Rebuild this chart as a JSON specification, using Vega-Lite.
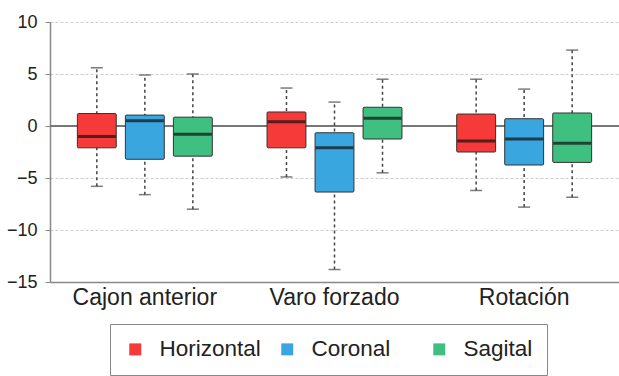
{
  "$schema": "https://vega.github.io/schema/vega-lite/v6.json",
  "width": 569,
  "height": 260,
  "padding": {"left": 6, "top": 13, "right": 0, "bottom": 0},
  "background": "white",
  "config": {
    "font": "Liberation Sans",
    "view": {"stroke": null}
  },
  "data": {
    "values": [
      {"group": "Cajon anterior", "series": "Horizontal", "lo": -5.8, "q1": -2.1, "med": -1.0, "q3": 1.2, "hi": 5.6},
      {"group": "Cajon anterior", "series": "Coronal", "lo": -6.6, "q1": -3.2, "med": 0.5, "q3": 1.05, "hi": 4.9},
      {"group": "Cajon anterior", "series": "Sagital", "lo": -8.0, "q1": -2.9, "med": -0.8, "q3": 0.85, "hi": 5.0},
      {"group": "Varo forzado", "series": "Horizontal", "lo": -4.9, "q1": -2.1, "med": 0.4, "q3": 1.35, "hi": 3.65},
      {"group": "Varo forzado", "series": "Coronal", "lo": -13.8, "q1": -6.35, "med": -2.1, "q3": -0.65, "hi": 2.3},
      {"group": "Varo forzado", "series": "Sagital", "lo": -4.5, "q1": -1.25, "med": 0.75, "q3": 1.8, "hi": 4.5},
      {"group": "Rotación", "series": "Horizontal", "lo": -6.2, "q1": -2.5, "med": -1.45, "q3": 1.15, "hi": 4.5},
      {"group": "Rotación", "series": "Coronal", "lo": -7.8, "q1": -3.75, "med": -1.25, "q3": 0.7, "hi": 3.55},
      {"group": "Rotación", "series": "Sagital", "lo": -6.85, "q1": -3.5, "med": -1.65, "q3": 1.25, "hi": 7.3}
    ]
  },
  "encoding": {
    "x": {
      "field": "group", "type": "nominal",
      "sort": ["Cajon anterior", "Varo forzado", "Rotación"],
      "scale": {"paddingInner": 0, "paddingOuter": 0},
      "axis": {"title": null, "labelAngle": 0, "labelFontSize": 23, "labelColor": "#222", "ticks": false, "labelPadding": 4, "domainColor": "#888", "domainWidth": 1.5}
    },
    "xOffset": {
      "field": "series", "type": "nominal",
      "sort": ["Horizontal", "Coronal", "Sagital"],
      "scale": {"paddingInner": 0.19, "paddingOuter": 0.57}
    }
  },
  "layer": [
    {
      "mark": {"type": "rule", "color": "#777", "strokeWidth": 1.5},
      "encoding": {
        "x": null, "xOffset": null,
        "y": {"datum": 0, "type": "quantitative", "scale": {"domain": [-15, 10], "nice": false, "zero": false},
          "axis": {"title": null, "values": [-15, -10, -5, 0, 5, 10], "labelFontSize": 18, "labelColor": "#222", "grid": true, "gridColor": "#cccccc", "gridDash": [3, 2], "gridWidth": 1, "domainColor": "#888", "domainWidth": 1.5, "tickColor": "#888", "tickSize": 5, "labelPadding": 8}}
      }
    },
    {
      "mark": {"type": "rule", "color": "#444", "strokeWidth": 1.5, "strokeDash": [3, 3]},
      "encoding": {
        "y": {"field": "lo", "type": "quantitative"},
        "y2": {"field": "hi"}
      }
    },
    {
      "mark": {"type": "bar", "stroke": "#333", "strokeWidth": 1, "cornerRadius": 1},
      "encoding": {
        "y": {"field": "q1", "type": "quantitative"},
        "y2": {"field": "q3"},
        "color": {
          "field": "series", "type": "nominal",
          "sort": ["Horizontal", "Coronal", "Sagital"],
          "scale": {"domain": ["Horizontal", "Coronal", "Sagital"], "range": ["#f63a3a", "#3aa6e0", "#40c080"]},
          "legend": {"title": null, "orient": "none", "legendX": 60, "legendY": 302, "direction": "horizontal", "columns": 3, "gridAlign": "all", "columnPadding": 15, "symbolType": "square", "symbolSize": 144, "symbolStrokeWidth": 0, "labelFontSize": 22.5, "labelColor": "#222", "labelOffset": 13, "padding": 14, "strokeColor": "#888", "fillColor": "white"}
        }
      }
    },
    {
      "mark": {"type": "tick", "color": "#111", "thickness": 3, "size": 38},
      "encoding": {"y": {"field": "med", "type": "quantitative"}}
    },
    {
      "mark": {"type": "tick", "color": "#444", "thickness": 1.5, "size": 12},
      "encoding": {"y": {"field": "hi", "type": "quantitative"}}
    },
    {
      "mark": {"type": "tick", "color": "#444", "thickness": 1.5, "size": 12},
      "encoding": {"y": {"field": "lo", "type": "quantitative"}}
    }
  ]
}
